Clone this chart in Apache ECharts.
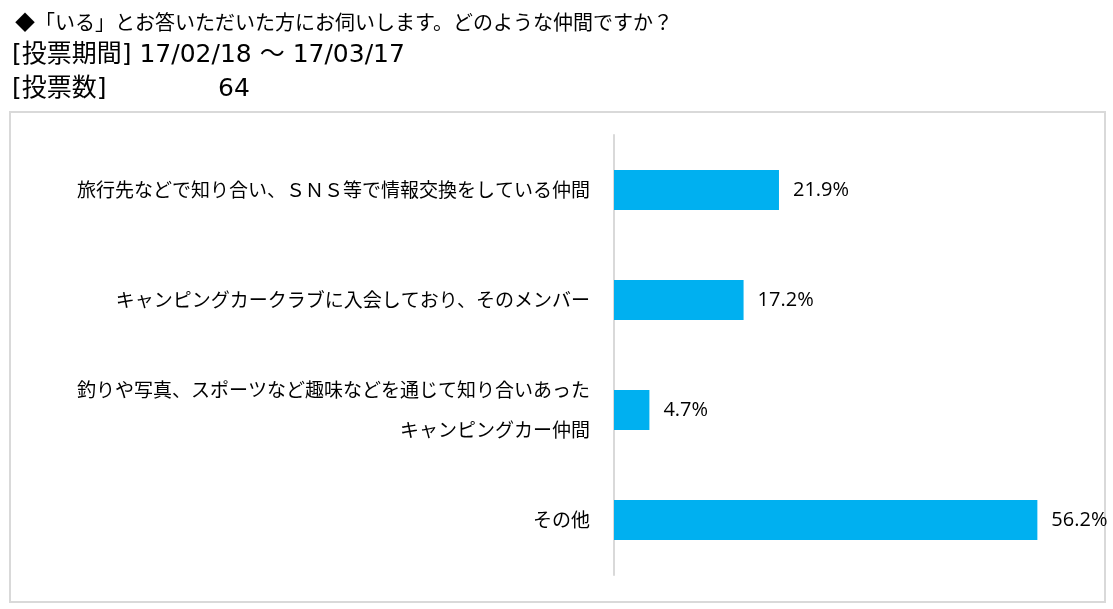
<!DOCTYPE html>
<html>
<head>
<meta charset="utf-8">
<script src="https://cdn.jsdelivr.net/npm/echarts@6/dist/echarts.min.js"></script>
<style>
  html, body { margin: 0; padding: 0; background: #fff; }
  #main { width: 1113px; height: 609px; }
</style>
</head>
<body>
<div id="main"></div>
<script>
// 回答項目と割合(%)
var categories = [
  '旅行先などで知り合い、ＳＮＳ等で情報交換をしている仲間',
  'キャンピングカークラブに入会しており、そのメンバー',
  '釣りや写真、スポーツなど趣味などを通じて知り合いあった\nキャンピングカー仲間',
  'その他'
];
var values = [21.9, 17.2, 4.7, 56.2];

var titleLines = [
  '◆「いる」とお答いただいた方にお伺いします。どのような仲間ですか？',
  '[投票期間] 17/02/18 ～ 17/03/17',
  '[投票数]'
];
var voteCount = '64';

var jpFont = '"Noto Sans CJK JP", sans-serif';
var mixFont = '"DejaVu Sans", "Noto Sans CJK JP", sans-serif';

var option = {
  backgroundColor: '#fff',
  animation: false,
  graphic: [
    { type: 'rect', shape: { x: 10, y: 112, width: 1095, height: 490 },
      style: { fill: '#fff', stroke: '#d9d9d9', lineWidth: 2 }, z: -1 },
    { type: 'text', left: 15, top: 12,
      style: { text: titleLines[0], font: '20px ' + jpFont, fill: '#000' } },
    { type: 'text', left: 12, top: 43,
      style: { text: titleLines[1], font: '25px ' + mixFont, fill: '#000' } },
    { type: 'text', left: 12, top: 77,
      style: { text: titleLines[2], font: '25px ' + mixFont, fill: '#000' } },
    { type: 'text', left: 218, top: 77,
      style: { text: voteCount, font: '25px ' + mixFont, fill: '#000' } }
  ],
  grid: { left: 614, top: 135, width: 452, height: 440, containLabel: false },
  xAxis: {
    type: 'value', min: 0, max: 60, show: false
  },
  yAxis: {
    type: 'category',
    data: categories,
    inverse: true,
    axisLine: { show: true, lineStyle: { color: '#d9d9d9', width: 2 } },
    axisTick: { show: false },
    axisLabel: {
      margin: 24, fontSize: 19, color: '#000', fontFamily: jpFont,
      lineHeight: 40, align: 'right'
    }
  },
  series: [{
    type: 'bar',
    data: values,
    barWidth: 40,
    itemStyle: { color: '#00b0f0' },
    label: {
      show: true, position: 'right', distance: 14,
      fontSize: 20, color: '#000', fontFamily: '"Open Sans", sans-serif',
      formatter: function (p) { return p.value.toFixed(1) + '%'; }
    }
  }]
};

var myChart = echarts.init(document.getElementById('main'));
myChart.setOption(option);
</script>
</body>
</html>
